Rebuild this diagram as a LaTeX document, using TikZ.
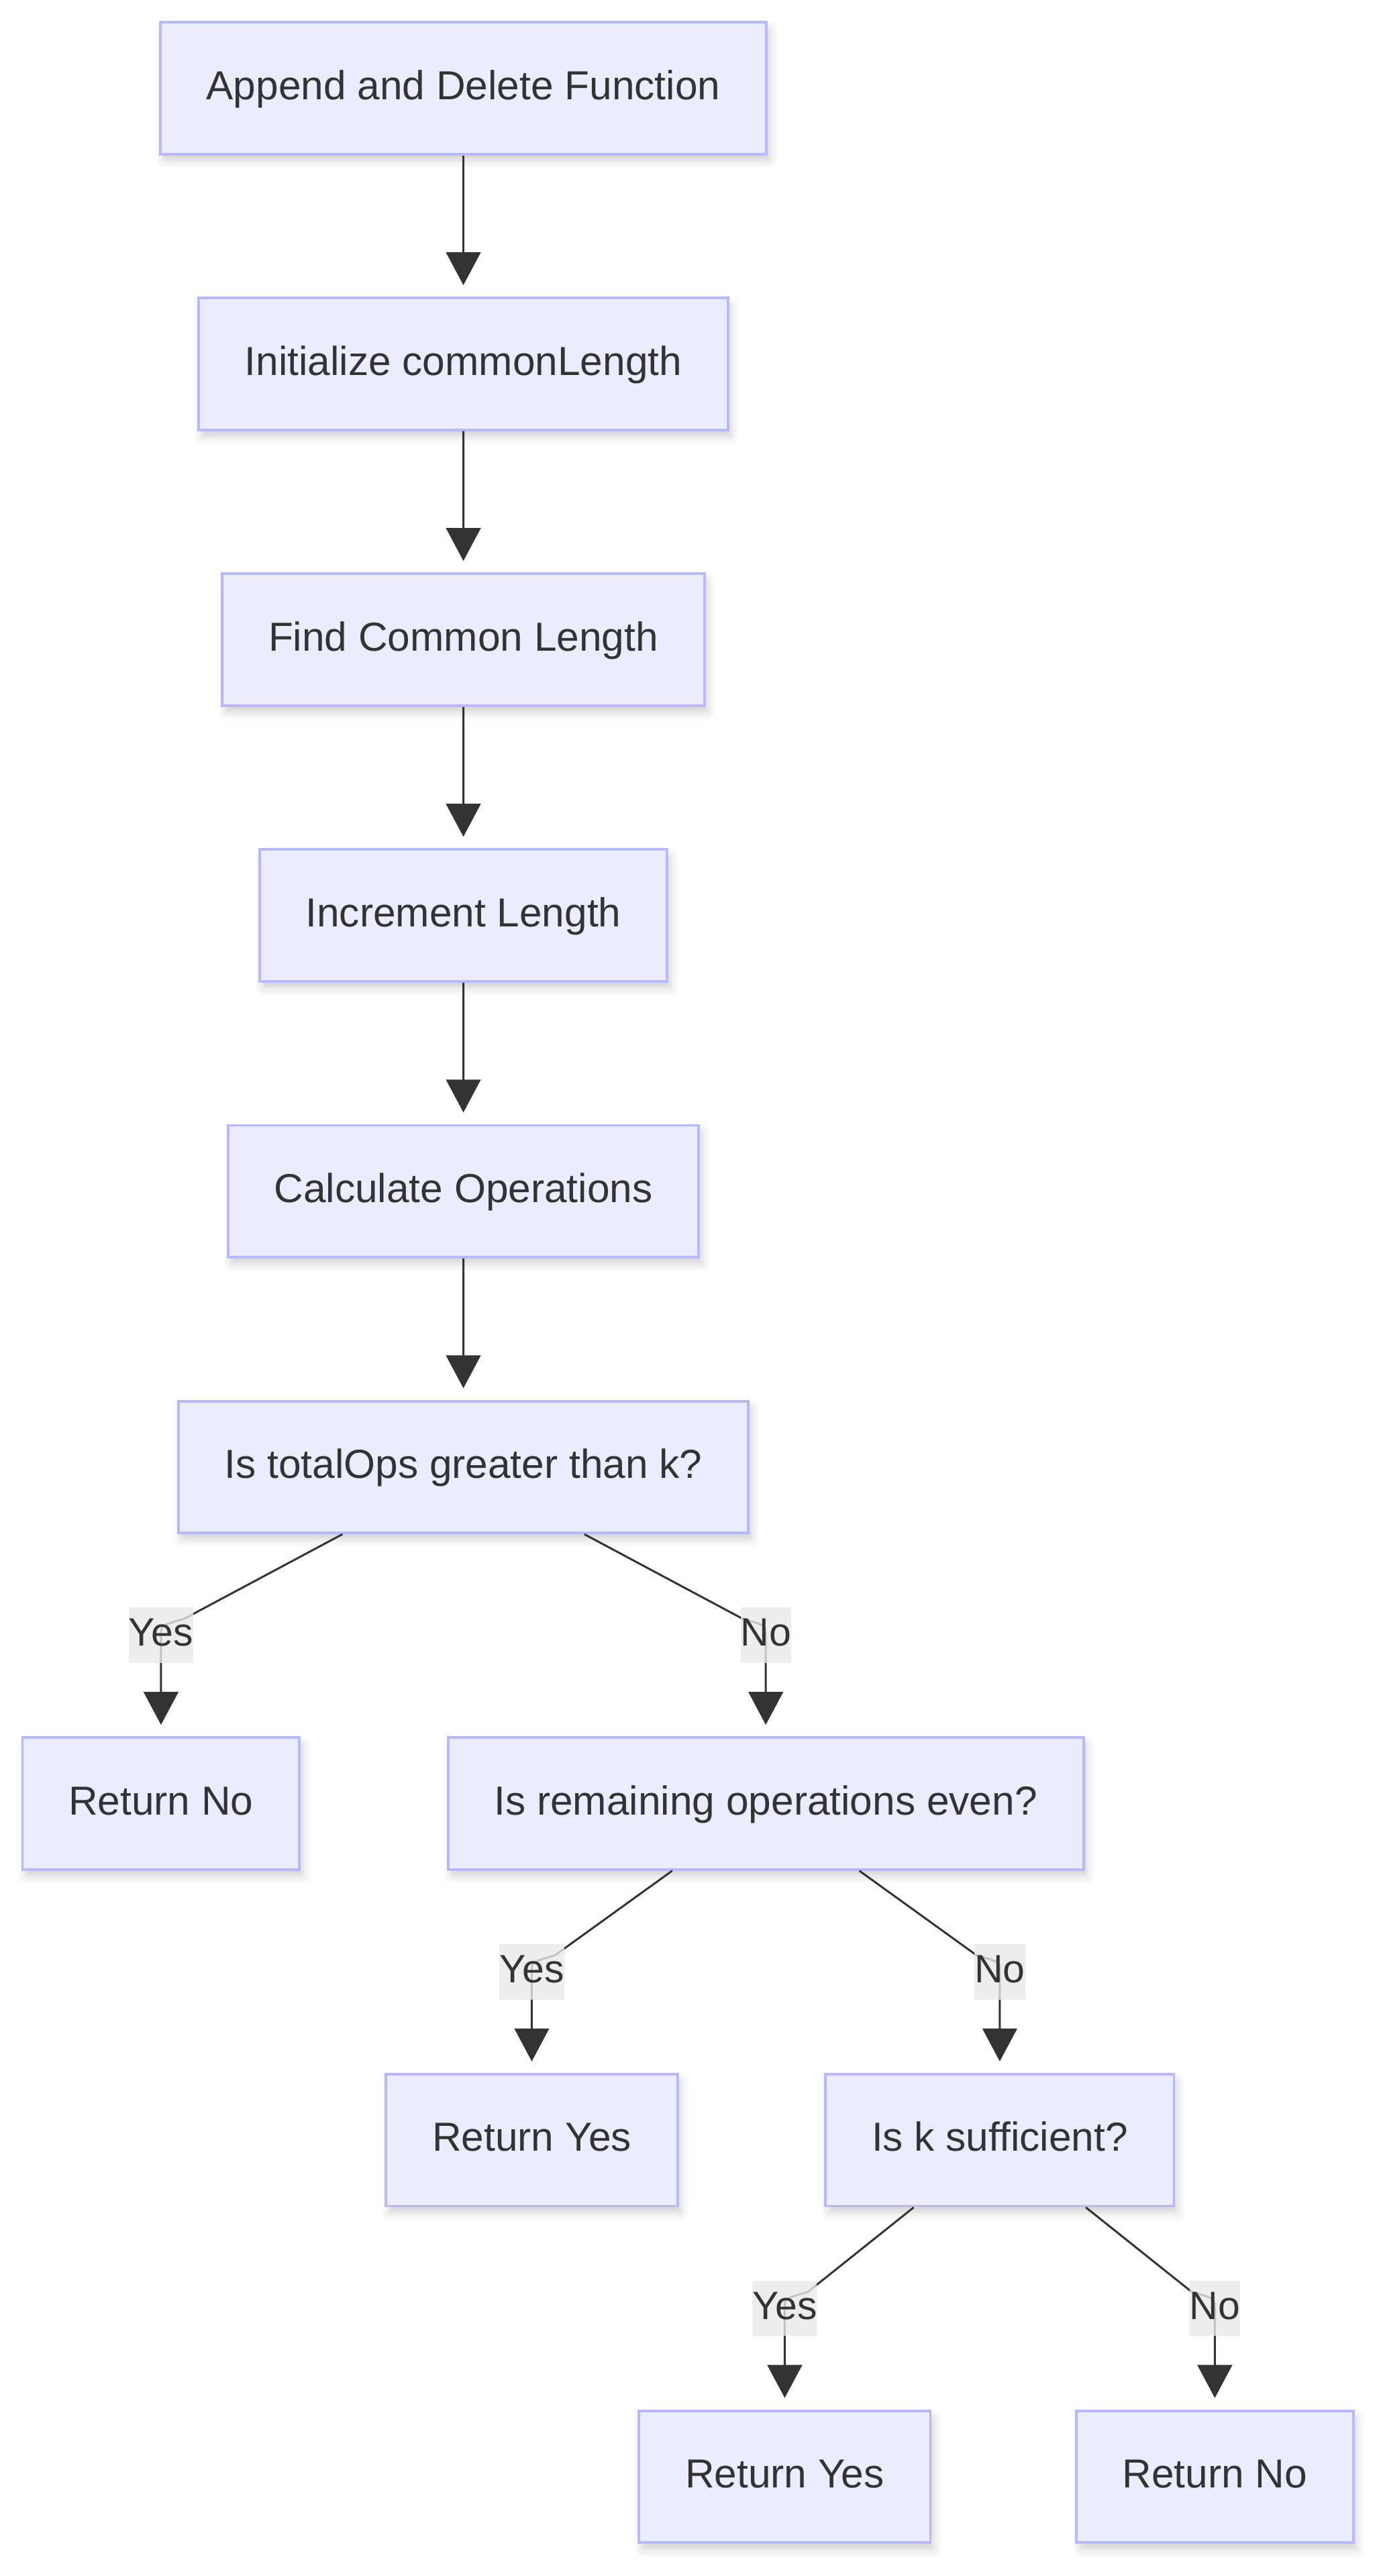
\documentclass[tikz,border=0pt]{standalone}
\usepackage{fontspec}
\setmainfont{Liberation Sans}
\usetikzlibrary{arrows.meta,calc,shadows.blur}

\definecolor{boxfill}{HTML}{ECECFF}
\definecolor{boxline}{HTML}{B8B8FF}
\definecolor{ink}{HTML}{333333}
\definecolor{lblfill}{HTML}{E8E8E8}

\tikzset{
  box/.style={rectangle, draw=boxline, line width=0.8pt, fill=boxfill, text=ink,
    inner xsep=14pt, inner ysep=0pt, minimum height=40pt,
    text height=0.72em, text depth=0.04em,
    font=\fontsize{12.3}{14}\selectfont,
    blur shadow={shadow xshift=1pt, shadow yshift=-2pt, shadow blur radius=2.5pt, shadow opacity=18}},
  lbl/.style={fill=lblfill, fill opacity=0.8, text opacity=1, text=ink,
    inner xsep=0pt, inner ysep=4.65pt, text height=0.7em, text depth=0.05em,
    font=\fontsize{12}{14}\selectfont, pos=0},
  branch/.style={edge from parent path={let \p1=(\tikzparentnode.south), \p2=(\tikzchildnode.north) in
    ({\x1+0.4*(\x2-\x1)}, \y1) -- ({\x2+7pt*sign(\x1-\x2)}, {0.5*(\y1+\y2)+5pt})
    .. controls (\x2, {0.5*(\y1+\y2)+3pt}) .. (\x2, {0.5*(\y1+\y2)})
    -- (\tikzchildnode.north)}}
}

\begin{document}
\begin{tikzpicture}[
        grow                    = down,
        level distance          = 83.7pt,
        level 6/.style          = {sibling distance=183.5pt, level distance=102.15pt},
        level 7/.style          = {sibling distance=142pt, level distance=102.15pt},
        level 8/.style          = {sibling distance=130.5pt, level distance=102.15pt},
        edge from parent/.style = {draw=ink, line width=0.6pt, -{Triangle[length=10pt,width=10.5pt]}, shorten >=3.5pt},
        edge from parent path   = {(\tikzparentnode.south) -- (\tikzchildnode.north)},
      ]
        \useasboundingbox (-140.6pt,26.75pt) rectangle (278.4pt,-755.1pt);
        \node[box] (append) {Append and Delete Function}
                child {
                    node[box] (init) {Initialize commonLength}
                    child {
                        node[box] (common) {Find Common Length}
                        child {
                            node[box] (incr) {Increment Length}
                            child {
                                node[box] (calcops) {Calculate Operations}
                                child {
                                    node[box] (total) {Is totalOps greater than k?}
                                    child[branch] {
                                        node[box] (retno) {Return No}
                                        edge from parent node[lbl] {Yes}
                                    }
                                    child[branch] {
                                        node[box] (even) {Is remaining operations even?}
                                        child {
                                            node[box] (retyes) {Return Yes}
                                            edge from parent node[lbl] {Yes}
                                        }
                                        child {
                                            node[box] (enough) {Is k sufficient?}
                                            child {
                                                node[box] (okyes) {Return Yes}
                                                edge from parent node[lbl] {Yes}
                                            }
                                            child {
                                                node[box] (okno) {Return No}
                                                edge from parent node[lbl] {No}
                                            }
                                            edge from parent node[lbl] {No}
                                        }
                                        edge from parent node[lbl] {No}
                                    }
                                }
                            }
                        }
                    }
                };
    \end{tikzpicture}
\end{document}
